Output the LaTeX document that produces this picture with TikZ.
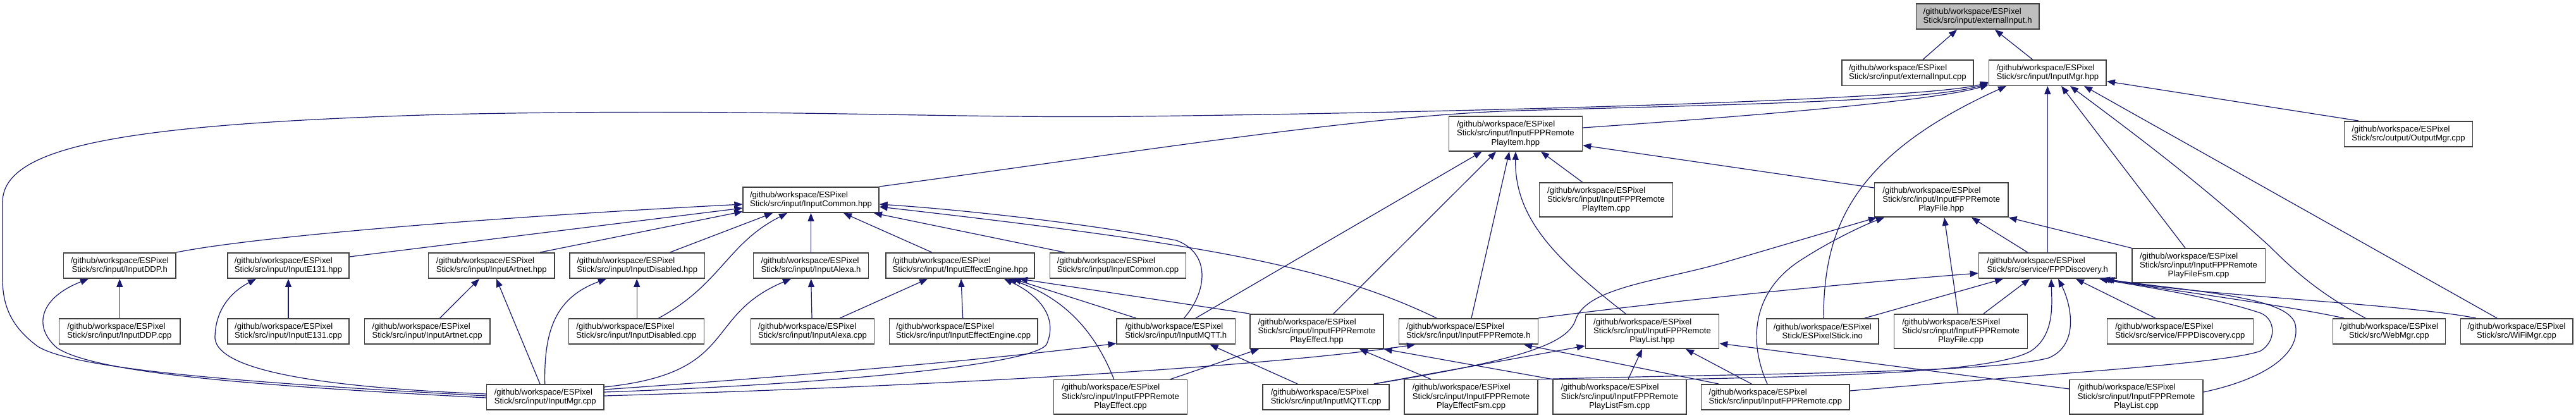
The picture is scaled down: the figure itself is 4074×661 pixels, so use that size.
\documentclass[tikz,border=0pt]{standalone}
\usepackage{fontspec}
\setmainfont{Liberation Sans}
\usetikzlibrary{arrows.meta}
\definecolor{edgec}{RGB}{25,25,112}
\definecolor{boxc}{RGB}{64,64,64}
\definecolor{rootfill}{RGB}{191,191,191}
\newsavebox\lbA
\newsavebox\lbB
\newsavebox\lbC
\newlength\lbW
\newcommand\ltwo[2]{\sbox\lbA{#1}\sbox\lbB{#2}%
  \setlength\lbW{\wd\lbA}\ifdim\wd\lbB>\lbW\setlength\lbW{\wd\lbB}\fi
  \vbox{\hbox to\lbW{\usebox\lbA\hfil}\hbox to\lbW{\hfil\usebox\lbB\hfil}}}
\newcommand\lthree[3]{\sbox\lbA{#1}\sbox\lbB{#2}\sbox\lbC{#3}%
  \setlength\lbW{\wd\lbA}\ifdim\wd\lbB>\lbW\setlength\lbW{\wd\lbB}\fi
  \ifdim\wd\lbC>\lbW\setlength\lbW{\wd\lbC}\fi
  \vbox{\hbox to\lbW{\usebox\lbA\hfil}\hbox to\lbW{\usebox\lbB\hfil}\hbox to\lbW{\hfil\usebox\lbC\hfil}}}
\newcommand\Ltwo[1]{\ltwo{/github/workspace/ESPixel}{#1}}
\newcommand\Lthree[2]{\lthree{/github/workspace/ESPixel}{#1}{#2}}
\tikzset{
  gbox/.style={draw=boxc, line width=1.5pt, fill=white, inner sep=0pt, text=black,
    font=\fontsize{13.1}{14.2}\selectfont},
  root/.style={gbox, fill=rootfill},
  dep/.style={draw=edgec, line width=1.2pt, -{Triangle[length=13pt,width=10pt]}},
  wh/.style 2 args={minimum width=#1pt, minimum height=#2pt}
}
\begin{document}
\begin{tikzpicture}[x=1pt,y=-1pt]
\fill[white] (0,0) rectangle (4074,661);
\useasboundingbox (0,0) rectangle (4074,661);
% ---------- nodes ----------
\node[root,wh={194.6}{40.4}] (extH) at (3127.6,26) {\Ltwo{Stick/src/input/externalInput.h}};
\node[gbox,wh={208}{40.4}] (extCpp) at (3016.9,115.1) {\Ltwo{Stick/src/input/externalInput.cpp}};
\node[gbox,wh={185.8}{40.4}] (mgrHpp) at (3238.3,115.1) {\Ltwo{Stick/src/input/InputMgr.hpp}};
\node[gbox,wh={211.2}{54.8}] (pitemHpp) at (2396.9,211.6) {\Lthree{Stick/src/input/InputFPPRemote}{PlayItem.hpp}};
\node[gbox,wh={202.7}{40.4}] (outMgr) at (3809,212) {\Ltwo{Stick/src/output/OutputMgr.cpp}};
\node[gbox,wh={214.8}{40.4}] (commonHpp) at (1282.5,316) {\Ltwo{Stick/src/input/InputCommon.hpp}};
\node[gbox,wh={210.8}{54.4}] (pitemCpp) at (2540,316) {\Lthree{Stick/src/input/InputFPPRemote}{PlayItem.cpp}};
\node[gbox,wh={211.2}{54.4}] (pfileHpp) at (3070.2,316) {\Lthree{Stick/src/input/InputFPPRemote}{PlayFile.hpp}};
% row 3
\node[gbox,wh={177.7}{40.4}] (ddpH) at (189.3,420) {\Ltwo{Stick/src/input/InputDDP.h}};
\node[gbox,wh={192.4}{40.4}] (e131Hpp) at (456,420) {\Ltwo{Stick/src/input/InputE131.hpp}};
\node[gbox,wh={199.2}{40.4}] (artnetHpp) at (777.3,420) {\Ltwo{Stick/src/input/InputArtnet.hpp}};
\node[gbox,wh={213.4}{40.4}] (disabledHpp) at (1007.7,420) {\Ltwo{Stick/src/input/InputDisabled.hpp}};
\node[gbox,wh={181.7}{40.4}] (alexaH) at (1282.5,420) {\Ltwo{Stick/src/input/InputAlexa.h}};
\node[gbox,wh={235}{40.4}] (effengHpp) at (1518.5,420) {\Ltwo{Stick/src/input/InputEffectEngine.hpp}};
\node[gbox,wh={215.2}{40.4}] (commonCpp) at (1768,420) {\Ltwo{Stick/src/input/InputCommon.cpp}};
\node[gbox,wh={217.8}{40.4}] (fppdiscH) at (3238.3,420) {\Ltwo{Stick/src/service/FPPDiscovery.h}};
\node[gbox,wh={210.5}{54}] (pfilefsmCpp) at (3477,420) {\Lthree{Stick/src/input/InputFPPRemote}{PlayFileFsm.cpp}};
% row 4
\node[gbox,wh={191.5}{40.4}] (ddpCpp) at (189,524) {\Ltwo{Stick/src/input/InputDDP.cpp}};
\node[gbox,wh={192.4}{40.4}] (e131Cpp) at (456,524) {\Ltwo{Stick/src/input/InputE131.cpp}};
\node[gbox,wh={198.8}{40.4}] (artnetCpp) at (675.7,524) {\Ltwo{Stick/src/input/InputArtnet.cpp}};
\node[gbox,wh={213.9}{40.4}] (disabledCpp) at (1006.5,524) {\Ltwo{Stick/src/input/InputDisabled.cpp}};
\node[gbox,wh={194.7}{40.4}] (alexaCpp) at (1285,524) {\Ltwo{Stick/src/input/InputAlexa.cpp}};
\node[gbox,wh={234.5}{40.4}] (effengCpp) at (1523.7,524) {\Ltwo{Stick/src/input/InputEffectEngine.cpp}};
\node[gbox,wh={187.1}{40.4}] (mqttH) at (1859.7,524) {\Ltwo{Stick/src/input/InputMQTT.h}};
\node[gbox,wh={210.8}{54.4}] (peffectHpp) at (2082.4,524) {\Lthree{Stick/src/input/InputFPPRemote}{PlayEffect.hpp}};
\node[gbox,wh={220.1}{40.4}] (fppremoteH) at (2322.3,524) {\Ltwo{Stick/src/input/InputFPPRemote.h}};
\node[gbox,wh={211}{54.4}] (plistHpp) at (2613,524) {\Lthree{Stick/src/input/InputFPPRemote}{PlayList.hpp}};
\node[gbox,wh={177.3}{40.4}] (ino) at (2882.3,524) {\Ltwo{Stick/ESPixelStick.ino}};
\node[gbox,wh={210.8}{54.4}] (pfileCpp) at (3101.1,524) {\Lthree{Stick/src/input/InputFPPRemote}{PlayFile.cpp}};
\node[gbox,wh={230.9}{40.4}] (fppdiscCpp) at (3447.8,524) {\Ltwo{Stick/src/service/FPPDiscovery.cpp}};
\node[gbox,wh={177.9}{40.4}] (webMgr) at (3778.4,524) {\Ltwo{Stick/src/WebMgr.cpp}};
\node[gbox,wh={177.5}{40.4}] (wifiMgr) at (3980,524) {\Ltwo{Stick/src/WiFiMgr.cpp}};
% row 5
\node[gbox,wh={185.3}{40.4}] (mgrCpp) at (862.3,628) {\Ltwo{Stick/src/input/InputMgr.cpp}};
\node[gbox,wh={210.9}{54.5}] (peffectCpp) at (1772,627.7) {\Lthree{Stick/src/input/InputFPPRemote}{PlayEffect.cpp}};
\node[gbox,wh={200.1}{40.4}] (mqttCpp) at (2097.1,628) {\Ltwo{Stick/src/input/InputMQTT.cpp}};
\node[gbox,wh={210.8}{54.5}] (peffectfsmCpp) at (2326.6,627.7) {\Lthree{Stick/src/input/InputFPPRemote}{PlayEffectFsm.cpp}};
\node[gbox,wh={211}{54.5}] (plistfsmCpp) at (2561.3,627.7) {\Lthree{Stick/src/input/InputFPPRemote}{PlayListFsm.cpp}};
\node[gbox,wh={234.3}{40.4}] (fppremoteCpp) at (2807.8,628) {\Ltwo{Stick/src/input/InputFPPRemote.cpp}};
\node[gbox,wh={210.8}{54.5}] (plistCpp) at (3378.6,627.7) {\Lthree{Stick/src/input/InputFPPRemote}{PlayList.cpp}};
% ---------- edges ----------
\draw[dep] (extCpp.north -| 3041,0) -- (extH.south -| 3095,0);
\draw[dep] (mgrHpp.north -| 3214.6,0) -- (extH.south -| 3155,0);
\draw[dep] (mgrCpp.west |- 0,626) .. controls (400,606) and (120,585) .. (60,548) .. controls (15,515) and (4,480) .. (4,440) -- (4,320) .. controls (4,230) and (200,196) .. (700,181) .. controls (1200,170) and (1500,188) .. (1800,184) .. controls (2300,178) and (3050,158) .. (mgrHpp.west |- 0,130);
\draw[dep] (pitemHpp.east |- 0,202) .. controls (2750,185) and (3060,160) .. (mgrHpp.west |- 0,134);
\draw[dep] (commonHpp.north east) .. controls (1800,240) and (2150,183) .. (2400,175) .. controls (2750,165) and (3050,160) .. (mgrHpp.west |- 0,132);
\draw[dep] (fppdiscH.north) -- (mgrHpp.south);
\draw[dep] (ino.north -| 2883.8,0) .. controls (2885,370) and (2920,250) .. (mgrHpp.south -| 3173,0);
\draw[dep] (pfilefsmCpp.north -| 3456,0) -- (mgrHpp.south -| 3260,0);
\draw[dep] (webMgr.north -| 3741,0) .. controls (3670,465) and (3630,430) .. (3590,390) .. controls (3480,290) and (3380,215) .. (mgrHpp.south -| 3274,0);
\draw[dep] (wifiMgr.north -| 3949,0) -- (mgrHpp.south -| 3296,0);
\draw[dep] (outMgr.north -| 3730,0) -- (mgrHpp.east |- 0,128.6);
% PlayItem.hpp
\draw[dep] (mqttH.north -| 1891,0) -- (pitemHpp.south -| 2343.6,0);
\draw[dep] (peffectHpp.north -| 2109,0) -- (pitemHpp.south -| 2366,0);
\draw[dep] (fppremoteH.north -| 2327,0) -- (pitemHpp.south -| 2387,0);
\draw[dep] (plistHpp.north -| 2571,0) .. controls (2460,410) and (2395,345) .. (pitemHpp.south -| 2397,0);
\draw[dep] (pitemCpp.north -| 2502.5,0) -- (pitemHpp.south -| 2437,0);
\draw[dep] (pfileHpp.west |- 0,297) -- (pitemHpp.east |- 0,229.8);
% InputCommon.hpp
\draw[dep] (ddpH.north east) .. controls (400,375) and (750,345) .. (commonHpp.west |- 0,323);
\draw[dep] (e131Hpp.east |- 0,406) -- (commonHpp.west |- 0,329);
\draw[dep] (artnetHpp.north -| 854,0) -- (commonHpp.west |- 0,334.5);
\draw[dep] (disabledHpp.north -| 1059.5,0) -- (commonHpp.south -| 1222,0);
\draw[dep] (disabledCpp.north -| 1041.6,0) .. controls (1140,450) and (1150,385) .. (commonHpp.south -| 1245,0);
\draw[dep] (alexaH.north) -- (commonHpp.south);
\draw[dep] (effengHpp.north -| 1473.8,0) -- (commonHpp.south -| 1334,0);
\draw[dep] (commonCpp.north -| 1683.7,0) -- (commonHpp.south -| 1382,0);
\draw[dep] (mqttH.north -| 1872.5,0) .. controls (1910,460) and (1915,400) .. (1860,380) .. controls (1700,350) and (1500,330) .. (commonHpp.east |- 0,323);
\draw[dep] (fppremoteH.north -| 2272,0) .. controls (2100,420) and (1900,385) .. (commonHpp.east |- 0,327);
% row 3 headers
\draw[dep] (ddpCpp.north -| 189.3,0) -- (ddpH.south -| 189.3,0);
\draw[dep] (mgrCpp.west |- 0,629) .. controls (400,610) and (150,590) .. (90,550) .. controls (50,515) and (65,470) .. (ddpH.south -| 140,0);
\draw[dep] (e131Cpp.north) -- (e131Hpp.south);
\draw[dep] (mgrCpp.west |- 0,623) .. controls (500,612) and (345,585) .. (340,535) .. controls (340,490) and (365,462) .. (e131Hpp.south -| 405,0);
\draw[dep] (artnetCpp.north -| 695.6,0) -- (artnetHpp.south -| 758,0);
\draw[dep] (mgrCpp.north -| 854,0) -- (artnetHpp.south -| 785,0);
\draw[dep] (disabledCpp.north -| 1007.2,0) -- (disabledHpp.south -| 1007.2,0);
\draw[dep] (mgrCpp.north -| 861.7,0) .. controls (860,520) and (880,470) .. (disabledHpp.south -| 959,0);
\draw[dep] (alexaCpp.north -| 1284,0) -- (alexaH.south -| 1282.7,0);
\draw[dep] (mgrCpp.east |- 0,612) .. controls (1170,590) and (1110,500) .. (alexaH.south -| 1251,0);
\draw[dep] (alexaCpp.north -| 1328.3,0) -- (effengHpp.south -| 1467,0);
\draw[dep] (effengCpp.north -| 1522.7,0) -- (effengHpp.south -| 1520,0);
\draw[dep] (mgrCpp.east |- 0,620) .. controls (1300,608) and (1630,578) .. (1655,545) .. controls (1675,500) and (1640,465) .. (effengHpp.south -| 1588,0);
\draw[dep] (peffectCpp.north -| 1761.7,0) .. controls (1730,520) and (1680,470) .. (effengHpp.south -| 1595,0);
\draw[dep] (mqttH.north -| 1796.7,0) -- (effengHpp.south -| 1602,0);
\draw[dep] (peffectHpp.north west) -- (effengHpp.south -| 1612,0);
% row 4 headers
\draw[dep] (mgrCpp.east |- 0,616) .. controls (1300,592) and (1600,565) .. (mqttH.west |- 0,543);
\draw[dep] (mqttCpp.north -| 2052,0) -- (mqttH.south -| 1913.6,0);
\draw[dep] (peffectCpp.north -| 1851,0) -- (peffectHpp.south -| 1991,0);
\draw[dep] (peffectfsmCpp.north -| 2263,0) -- (peffectHpp.south -| 2150,0);
\draw[dep] (plistfsmCpp.north west) -- (peffectHpp.south east);
\draw[dep] (mgrCpp.east |- 0,626) .. controls (1500,610) and (2000,580) .. (fppremoteH.south -| 2238,0);
\draw[dep] (fppremoteCpp.north -| 2718,0) -- (fppremoteH.south -| 2410,0);
\draw[dep] (mqttCpp.north -| 2173,0) -- (plistHpp.west |- 0,547);
\draw[dep] (plistfsmCpp.north -| 2575,0) -- (plistHpp.south -| 2597,0);
\draw[dep] (fppremoteCpp.north -| 2770,0) -- (plistHpp.south -| 2666,0);
\draw[dep] (plistCpp.west |- 0,615) -- (plistHpp.east |- 0,543);
% PlayFile.hpp
\draw[dep] (mqttCpp.north -| 2173,0) .. controls (2400,570) and (2480,545) .. (2492,505) .. controls (2510,455) and (2620,445) .. (2720,417) -- (pfileHpp.south -| 2968,0);
\draw[dep] (fppremoteCpp.north -| 2795,0) .. controls (2765,540) and (2770,460) .. (2850,410) .. controls (2900,378) and (2950,355) .. (pfileHpp.south -| 2980,0);
\draw[dep] (pfileCpp.north -| 3096.6,0) -- (pfileHpp.south -| 3075,0);
\draw[dep] (fppdiscH.north -| 3206.6,0) -- (pfileHpp.south -| 3118,0);
\draw[dep] (pfilefsmCpp.north west) -- (pfileHpp.south east);
% FPPDiscovery.h
\draw[dep] (fppremoteH.north east) .. controls (2650,475) and (2900,450) .. (fppdiscH.west |- 0,432);
\draw[dep] (ino.north -| 2949,0) -- (fppdiscH.south -| 3168,0);
\draw[dep] (pfileCpp.north -| 3137,0) -- (fppdiscH.south -| 3210,0);
\draw[dep] (peffectfsmCpp.north east) .. controls (2800,590) and (3150,590) .. (3240,566) .. controls (3290,545) and (3275,480) .. (fppdiscH.south -| 3255,0);
\draw[dep] (plistfsmCpp.north east) .. controls (2900,594) and (3150,590) .. (3212,555) .. controls (3250,530) and (3245,480) .. (fppdiscH.south -| 3244,0);
\draw[dep] (fppdiscCpp.north -| 3408.8,0) -- (fppdiscH.south -| 3283,0);
\draw[dep] (fppremoteCpp.east |- 0,618) .. controls (3250,590) and (3520,575) .. (3575,555) .. controls (3600,540) and (3600,505) .. (3575,495) .. controls (3500,470) and (3400,455) .. (fppdiscH.south -| 3320,0);
\draw[dep] (plistCpp.east |- 0,620) .. controls (3580,600) and (3640,560) .. (3630,513) .. controls (3620,470) and (3480,462) .. (fppdiscH.south -| 3324,0);
\draw[dep] (webMgr.north -| 3707,0) .. controls (3600,480) and (3420,458) .. (fppdiscH.south -| 3328,0);
\draw[dep] (wifiMgr.north -| 3915.6,0) .. controls (3800,480) and (3480,468) .. (fppdiscH.south -| 3331,0);
\end{tikzpicture}
\end{document}
